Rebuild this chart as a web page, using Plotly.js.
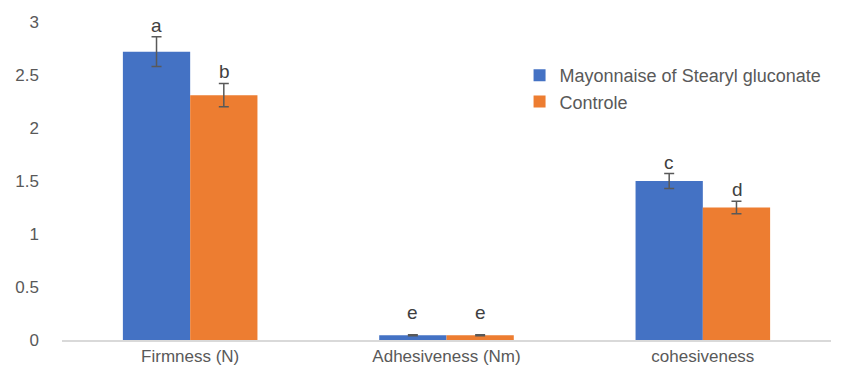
<!DOCTYPE html>
<html><head><meta charset="utf-8">
<script src="https://cdn.plot.ly/plotly-3.0.1.min.js"></script>
<style>html,body{margin:0;padding:0;background:#fff}#c{width:847px;height:373px}</style>
</head><body><div id="c"></div>
<script>
const categories = ["Firmness (N)", "Adhesiveness (Nm)", "cohesiveness"];
const seriesNames = ["Mayonnaise of Stearyl gluconate", "Controle"];
const mayoValues = [2.72, 0.045, 1.50];
const mayoErrors = [0.14, 0.005, 0.07];
const mayoLetters = ["a", "e", "c"];
const controlValues = [2.31, 0.045, 1.25];
const controlErrors = [0.11, 0.005, 0.06];
const controlLetters = ["b", "e", "d"];
const yTicks = [0, 0.5, 1, 1.5, 2, 2.5, 3];

const colors = ["#4472C4", "#ED7D31"];
const font = "Liberation Sans, Arial, sans-serif";
const err = arr => ({type: "data", array: arr, visible: true, color: "#595959", thickness: 1.5, width: 5});

const traces = [
  {type: "bar", name: seriesNames[0], x: categories, y: mayoValues, error_y: err(mayoErrors), marker: {color: colors[0]}},
  {type: "bar", name: seriesNames[1], x: categories, y: controlValues, error_y: err(controlErrors), marker: {color: colors[1]}}
];

const annotations = [];
const groups = [[mayoValues, mayoErrors, mayoLetters, -0.1333], [controlValues, controlErrors, controlLetters, 0.1333]];
groups.forEach(([v, e, l, off]) => {
  categories.forEach((c, i) => {
    annotations.push({x: i + off, xref: "x", y: v[i] + e[i], yref: "y", text: l[i], showarrow: false,
      yanchor: "bottom", yshift: (i === 1 ? 10 : -1), font: {family: font, size: 19, color: "#404040"}});
  });
});

const layout = {
  width: 847, height: 373,
  margin: {l: 62, r: 16, t: 22, b: 33},
  paper_bgcolor: "#fff", plot_bgcolor: "#fff",
  barmode: "group", bargap: 0.475, bargroupgap: 0,
  font: {family: font, size: 17, color: "#595959"},
  xaxis: {type: "category", showline: true, linecolor: "#D9D9D9", linewidth: 1.5, ticks: "", showgrid: false,
    tickfont: {size: 17, color: "#595959"}},
  yaxis: {range: [0, 3], tickvals: yTicks, ticktext: yTicks.map(String), showgrid: false, zeroline: false,
    showline: false, ticks: "", tickfont: {size: 17, color: "#595959"}, ticklabelstandoff: 22},
  legend: {x: 0.595, y: 0.89, xanchor: "left", yanchor: "top", font: {size: 18, color: "#595959"},
    bgcolor: "rgba(0,0,0,0)", tracegroupgap: 12, itemwidth: 30},
  showlegend: true,
  annotations: annotations
};
Plotly.newPlot("c", traces, layout, {displayModeBar: false, staticPlot: true});
</script></body></html>
